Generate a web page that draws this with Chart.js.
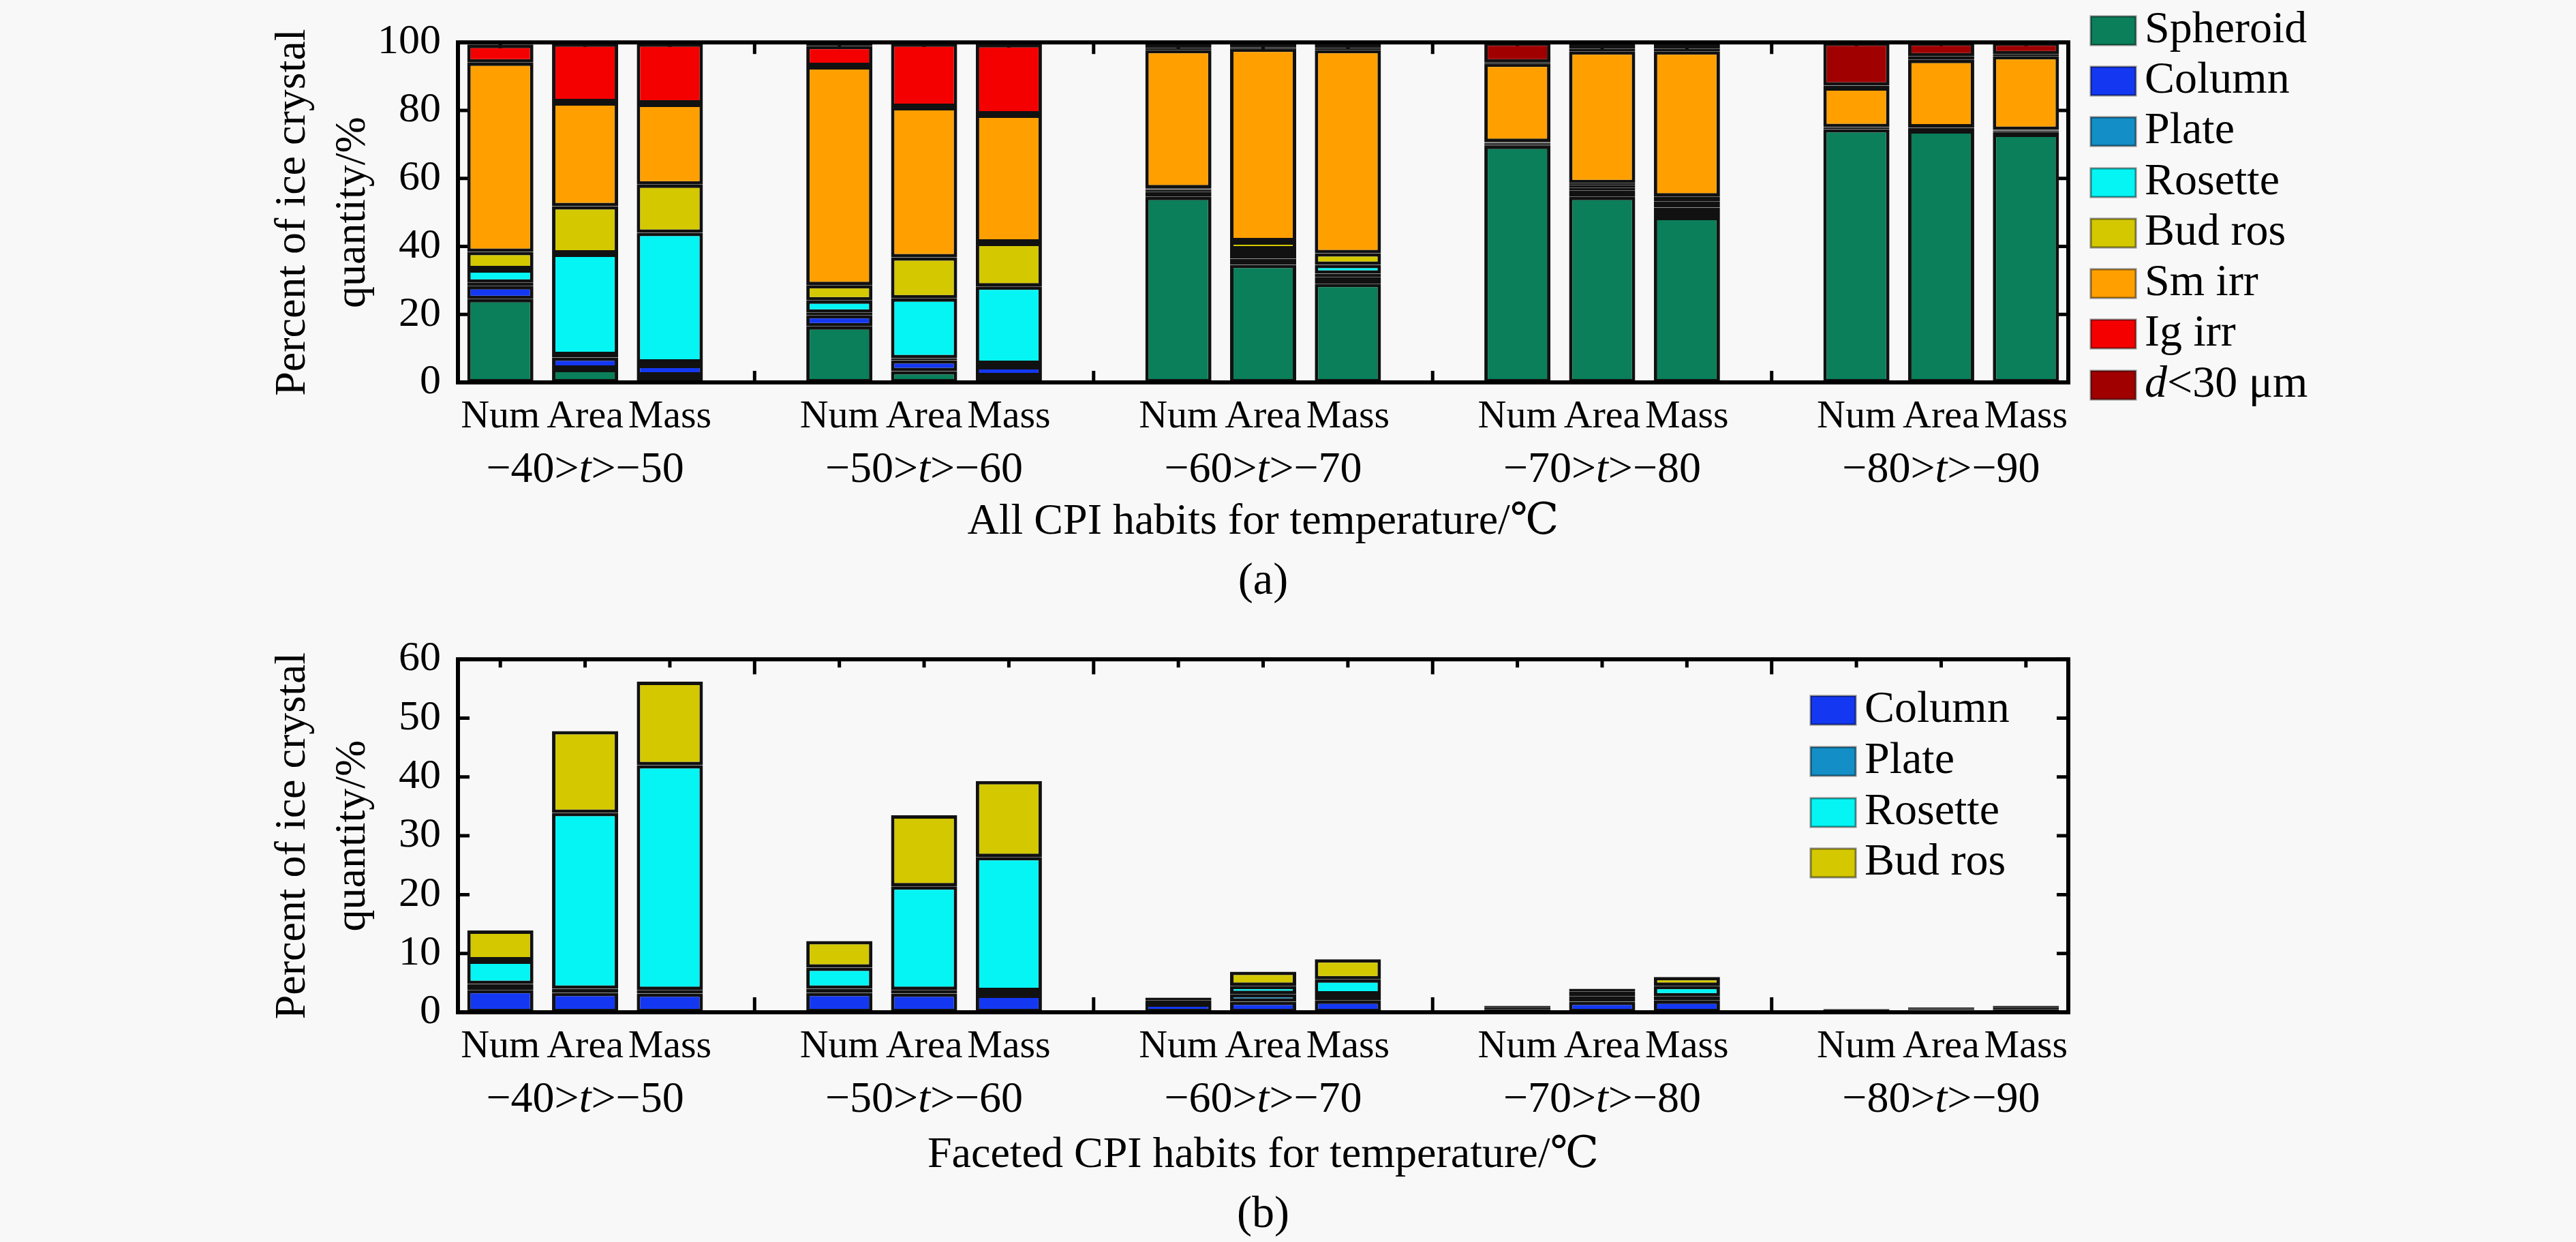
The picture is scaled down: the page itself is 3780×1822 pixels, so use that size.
<!DOCTYPE html>
<html>
<head>
<meta charset="utf-8">
<script src="https://cdn.jsdelivr.net/npm/chart.js@4.4.0/dist/chart.umd.min.js"></script>
<style>
html, body { margin: 0; padding: 0; background: #f8f8f8; overflow: hidden; }
.box { position: absolute; left: 0; width: 3780px; }
#top { top: 0; height: 905px; }
#bot { top: 905px; height: 917px; }
</style>
</head>
<body>
<div class="box" id="top"><canvas id="chartA"></canvas></div>
<div class="box" id="bot"><canvas id="chartB"></canvas></div>
<script>
// groups: -40>t>-50 ... -80>t>-90, each with Num / Area / Mass bars
var groupHigh = ["−40", "−50", "−60", "−70", "−80"];
var groupLow  = ["−50", "−60", "−70", "−80", "−90"];
var barKinds  = ["Num", "Area", "Mass"];

// percent of ice crystal quantity, 15 values = 5 groups x (Num, Area, Mass)
var spheroid = [24.5, 4.0, 2.0,  16.5, 3.3, 1.8,  54.6, 34.6, 29.0,  69.6, 54.6, 48.7,  74.5, 74.2, 73.2];
var column   = [3.8, 3.3, 3.2,   3.3, 3.2, 3.0,   1.5, 1.8, 2.0,     0.5, 1.8, 2.0,     0.3, 0.4, 0.5];
var plate    = [1.0, 0.7, 0.6,   0.7, 0.6, 0.6,   0.5, 1.3, 1.0,     0.3, 0.9, 0.7,     0.2, 0.2, 0.3];
var rosette  = [4.0, 29.9, 38.2, 3.6, 17.6, 22.8, 0.2, 1.4, 2.6,     0.1, 0.8, 1.8,     0.05, 0.1, 0.1];
var budRos   = [5.1, 13.9, 14.2, 4.5, 12.1, 12.9, 0.3, 2.4, 3.4,     0.2, 0.5, 1.5,     0.05, 0.1, 0.2];
var smIrr    = [55.7, 30.6, 23.8, 64.4, 44.2, 37.7, 40.7, 56.7, 59.8, 23.1, 38.8, 42.7, 11.7, 19.9, 21.7];
var lgIrr    = [5.2, 17.3, 17.7, 6.0, 18.7, 20.7, 0.5, 0.3, 0.5,     0.3, 0.8, 0.8,     0.5, 1.0, 0.5];
var small30  = [0.7, 0.3, 0.3,   1.0, 0.3, 0.5,   1.7, 1.5, 1.7,     5.9, 1.8, 1.8,     12.7, 4.1, 3.5];

var SERIF = '"Liberation Serif", "DejaVu Serif", serif';
Chart.defaults.font.family = SERIF;
Chart.defaults.color = "#000";

// category slots with an empty slot between groups
var xLabels = [];
groupHigh.forEach(function (g, gi) {
  barKinds.forEach(function (k) { xLabels.push(k); });
  if (gi < groupHigh.length - 1) xLabels.push("");
});

function pad(vals) {
  var out = [];
  vals.forEach(function (v, i) {
    out.push(v);
    if (i % 3 === 2 && i < vals.length - 1) out.push(null);
  });
  return out;
}

function series(label, vals, color) {
  return {
    label: label,
    data: pad(vals),
    backgroundColor: color,
    borderColor: "#111",
    borderWidth: 5,
    borderSkipped: false,
    barPercentage: 0.78,
    categoryPercentage: 1.0
  };
}

function drawParts(ctx, parts, x, y, size, align) {
  var w = 0;
  parts.forEach(function (p) {
    ctx.font = (p[1] ? "italic " : "") + size + "px " + SERIF;
    w += ctx.measureText(p[0]).width;
  });
  var xx = align === "center" ? x - w / 2 : x;
  ctx.textAlign = "left";
  ctx.textBaseline = "middle";
  parts.forEach(function (p) {
    ctx.font = (p[1] ? "italic " : "") + size + "px " + SERIF;
    ctx.fillText(p[0], xx, y);
    xx += ctx.measureText(p[0]).width;
  });
}

// inward ticks, frame, group labels, panel letter and legend
var panelPlugin = {
  id: "panel",
  beforeDatasetsDraw: function (chart, args, o) {
    var ctx = chart.ctx, a = chart.chartArea, x = chart.scales.x, y = chart.scales.y;
    ctx.save();
    ctx.strokeStyle = "#000";
    ctx.lineWidth = 5;
    ctx.beginPath();
    xLabels.forEach(function (lab, i) {
      var px = x.getPixelForValue(i);
      if (lab === "") {
        ctx.moveTo(px, a.top); ctx.lineTo(px, a.top + o.bigTick);
        ctx.moveTo(px, a.bottom); ctx.lineTo(px, a.bottom - o.bigTick);
      } else {
        ctx.moveTo(px, a.top); ctx.lineTo(px, a.top + o.smallTick);
      }
    });
    y.ticks.forEach(function (t) {
      var py = y.getPixelForValue(t.value);
      ctx.moveTo(a.left, py); ctx.lineTo(a.left + 17, py);
      ctx.moveTo(a.right, py); ctx.lineTo(a.right - 17, py);
    });
    ctx.stroke();
    ctx.restore();
  },
  afterDatasetsDraw: function (chart) {
    var ctx = chart.ctx, a = chart.chartArea;
    ctx.save();
    ctx.strokeStyle = "#000";
    ctx.lineWidth = 6;
    ctx.strokeRect(a.left, a.top, a.right - a.left, a.bottom - a.top);
    ctx.restore();
  },
  afterDraw: function (chart, args, o) {
    var ctx = chart.ctx, a = chart.chartArea, x = chart.scales.x;
    ctx.save();
    ctx.fillStyle = "#000";
    groupHigh.forEach(function (g, gi) {
      var px = x.getPixelForValue(gi * 4 + 1);
      drawParts(ctx, [[g + ">", false], ["t", true], [">" + groupLow[gi], false]], px, a.bottom + 129, 64, "center");
    });
    ctx.font = "66px " + SERIF;
    ctx.textAlign = "center";
    ctx.textBaseline = "middle";
    ctx.fillText(o.letter, (a.left + a.right) / 2, a.bottom + o.letterDy);

    chart.data.datasets.forEach(function (ds, i) {
      var cy = o.legendY[i];
      ctx.fillStyle = ds.backgroundColor;
      ctx.fillRect(o.legendX, cy - 21, 66, 42);
      ctx.strokeStyle = "rgba(0,0,0,0.45)";
      ctx.lineWidth = 3;
      ctx.strokeRect(o.legendX, cy - 21, 66, 42);
      ctx.fillStyle = "#000";
      var parts = ds.label.indexOf("d<") === 0 ? [["d", true], [ds.label.slice(1), false]] : [[ds.label, false]];
      drawParts(ctx, parts, o.legendX + 79, cy, 66, "left");
    });
    ctx.restore();
  }
};

function makeOptions(h, plotTop, plotBottom, yMax, yStep, xTitle, titlePad, extra) {
  return {
    responsive: true,
    maintainAspectRatio: false,
    animation: false,
    devicePixelRatio: 1,
    layout: { padding: { left: 0, top: plotTop, right: 745, bottom: 0 } },
    plugins: { legend: { display: false }, tooltip: { enabled: false }, panel: extra },
    scales: {
      x: {
        stacked: true,
        grid: { display: false, drawTicks: false },
        border: { display: false },
        ticks: { autoSkip: false, maxRotation: 0, minRotation: 0, padding: 16, font: { size: 58 }, color: "#000" },
        title: { display: true, text: xTitle, font: { size: 64 }, color: "#000", padding: { top: 0, bottom: titlePad } },
        afterFit: function (s) { s.height = h - plotBottom; }
      },
      y: {
        stacked: true,
        min: 0,
        max: yMax,
        grid: { display: false, drawTicks: false },
        border: { display: false },
        ticks: { stepSize: yStep, padding: 25, font: { size: 62 }, color: "#000" },
        title: {
          display: true,
          text: ["Percent of ice crystal", "quantity/%"],
          font: { size: 64, lineHeight: 1.375 },
          color: "#000",
          padding: { top: 386, bottom: 0 }
        },
        afterFit: function (s) { s.width = 672; }
      }
    }
  };
}

new Chart("chartA", {
  type: "bar",
  data: {
    labels: xLabels,
    datasets: [
      series("Spheroid", spheroid, "#0a7f5a"),
      series("Column", column, "#1438f2"),
      series("Plate", plate, "#138ec6"),
      series("Rosette", rosette, "#05f5f5"),
      series("Bud ros", budRos, "#d4c800"),
      series("Sm irr", smIrr, "#ffa000"),
      series("Ig irr", lgIrr, "#f50000"),
      series("d<30 μm", small30, "#a00000")
    ]
  },
  options: makeOptions(905, 38, 561, 100, 20, "All CPI habits for temperature/℃", 100, {
    bigTick: 17, smallTick: 10, letter: "(a)", letterDy: 293,
    legendX: 3068, legendY: [45, 119, 193, 268, 342, 416, 490, 565]
  }),
  plugins: [panelPlugin]
});

new Chart("chartB", {
  type: "bar",
  data: {
    labels: xLabels,
    datasets: [
      series("Column", column, "#1438f2"),
      series("Plate", plate, "#138ec6"),
      series("Rosette", rosette, "#05f5f5"),
      series("Bud ros", budRos, "#d4c800")
    ]
  },
  options: makeOptions(917, 50, 580, 60, 10, "Faceted CPI habits for temperature/℃", 88, {
    bigTick: 22, smallTick: 12, letter: "(b)", letterDy: 298,
    legendX: 2657, legendY: [137, 212, 287, 361]
  }),
  plugins: [panelPlugin]
});
</script>
</body>
</html>
